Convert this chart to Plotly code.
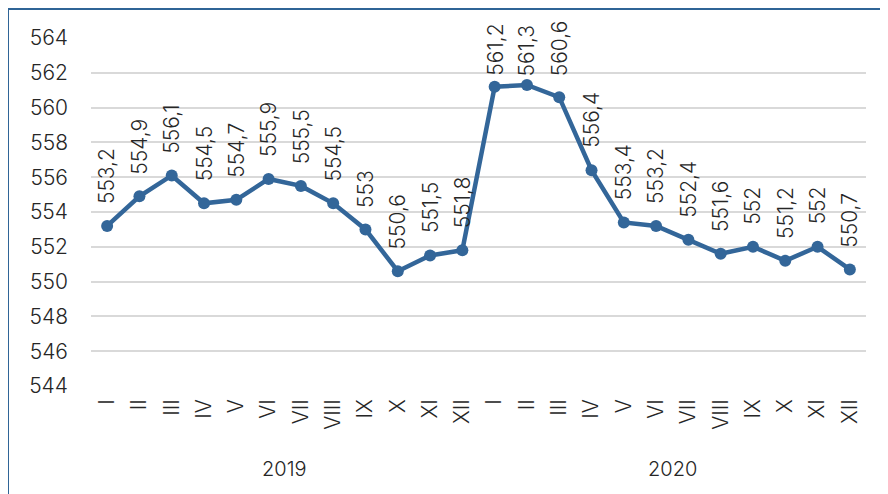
import plotly.graph_objects as go

months = ["I", "II", "III", "IV", "V", "VI", "VII", "VIII", "IX", "X", "XI", "XII"]
years = ["2019", "2020"]
values_2019 = [553.2, 554.9, 556.1, 554.5, 554.7, 555.9, 555.5, 554.5, 553.0, 550.6, 551.5, 551.8]
values_2020 = [561.2, 561.3, 560.6, 556.4, 553.4, 553.2, 552.4, 551.6, 552.0, 551.2, 552.0, 550.7]
y_ticks = [544, 546, 548, 550, 552, 554, 556, 558, 560, 562, 564]

values = values_2019 + values_2020
ticktext = months + months
x = list(range(len(values)))

line_color = "#336699"
text_color = "#262626"
font_family = "Inter, 'Open Sans', sans-serif"
fsize = 21
fweight = 300

y_min, y_max = 544, 564
top_m, bot_m = 30, 116
plot_h = 494 - top_m - bot_m
px_per_unit = plot_h / (y_max - y_min)

fig = go.Figure()
fig.add_trace(go.Scatter(
    x=x, y=values, mode="lines+markers",
    line=dict(color=line_color, width=4.5),
    marker=dict(color=line_color, size=12),
    hoverinfo="skip", showlegend=False,
))

def fmt(v):
    s = f"{v:g}"
    return s.replace(".", ",")

annotations = []
label_len = 58
for xi, v in zip(x, values):
    # keep labels inside the chart area (like the original), shrinking the gap near the top
    point_px = top_m + (y_max - v) * px_per_unit
    shift = max(6, min(20, point_px - label_len - 12))
    annotations.append(dict(
        x=xi, y=v, xref="x", yref="y", text=fmt(v), textangle=-90,
        showarrow=False, xanchor="center", yanchor="bottom", yshift=shift,
        font=dict(family=font_family, size=fsize, color=text_color, weight=fweight),
    ))
for i, yr in enumerate(years):
    center = (i * 12 + i * 12 + 11) / 2
    annotations.append(dict(
        x=center, y=-0.2385, xref="x", yref="paper", text=yr, showarrow=False,
        xanchor="center", yanchor="middle",
        font=dict(family=font_family, size=20, color=text_color, weight=fweight),
    ))

fig.update_layout(
    width=888, height=494,
    margin=dict(l=83, r=30, t=top_m, b=bot_m),
    paper_bgcolor="white", plot_bgcolor="white",
    font=dict(family=font_family, size=fsize, color=text_color, weight=fweight),
    annotations=annotations,
    shapes=[dict(type="rect", xref="paper", yref="paper",
                 x0=(0 - 83) / 775, x1=1.2, y0=-0.5, y1=1 + 29 / plot_h,
                 line=dict(color="#2F6496", width=2), layer="below")],
    xaxis=dict(
        range=[-0.5, len(values) - 0.5], tickvals=x, ticktext=ticktext,
        tickangle=-90, showgrid=False, zeroline=False, showline=False,
        ticks="", ticklabelstandoff=8,
        tickfont=dict(family=font_family, size=fsize, color=text_color, weight=fweight),
    ),
    yaxis=dict(
        range=[y_min, y_max], tickvals=y_ticks, showgrid=True, gridcolor="#d9d9d9",
        gridwidth=2, zeroline=False, showline=False, ticks="",
        ticklabelstandoff=22,
        tickfont=dict(family=font_family, size=fsize, color=text_color, weight=fweight),
    ),
)

fig.write_html("out.html")
